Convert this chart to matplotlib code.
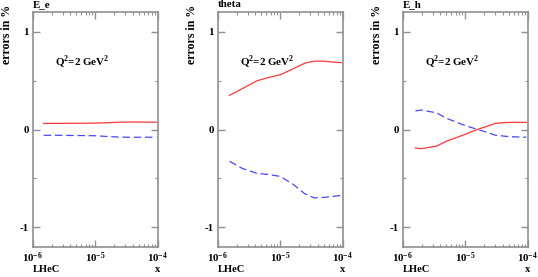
import matplotlib
matplotlib.use('Agg')
import matplotlib.pyplot as plt
from matplotlib.ticker import FixedLocator, NullFormatter

plt.rcParams['font.family'] = ['Liberation Serif', 'DejaVu Serif']
plt.rcParams['font.weight'] = 'bold'
plt.rcParams['mathtext.fontset'] = 'custom'
plt.rcParams['mathtext.rm'] = 'Liberation Serif:bold'
plt.rcParams['mathtext.bf'] = 'Liberation Serif:bold'

titles = ['E_e', 'theta', 'E_h']

x_ee = [1.5e-6, 3e-6, 6e-6, 1e-5, 1.6e-5, 2.5e-5, 4e-5, 6e-5, 9.5e-5]
red_ee = [0.062, 0.063, 0.064, 0.065, 0.070, 0.075, 0.077, 0.076, 0.075]
blue_ee = [-0.059, -0.060, -0.062, -0.064, -0.072, -0.078, -0.080, -0.079, -0.079]

x_th = [1.55e-6, 2.5e-6, 4.3e-6, 6.3e-6, 1e-5, 1.6e-5, 2.5e-5, 3.5e-5, 5e-5, 7e-5, 9.5e-5]
red_th = [0.35, 0.42, 0.50, 0.53, 0.56, 0.62, 0.68, 0.70, 0.70, 0.69, 0.685]
blue_th = [-0.326, -0.40, -0.45, -0.46, -0.48, -0.56, -0.66, -0.70, -0.695, -0.685, -0.675]

x_eh = [1.6e-6, 2e-6, 3.5e-6, 5e-6, 1e-5, 1.45e-5, 2.4e-5, 3e-5, 4.5e-5, 6e-5, 9.5e-5]
red_eh = [-0.19, -0.196, -0.17, -0.12, -0.05, -0.007, 0.04, 0.062, 0.072, 0.073, 0.073]
blue_eh = [0.19, 0.20, 0.17, 0.115, 0.04, 0.008, -0.035, -0.058, -0.070, -0.075, -0.079]

xs = [x_ee, x_th, x_eh]
reds = [red_ee, red_th, red_eh]
blues = [blue_ee, blue_th, blue_eh]

fig = plt.figure(figsize=(5.38, 2.77), dpi=100)
W, H = 538, 277
lefts = [32.7, 217.7, 402.7]
ax_w, top, bot = 125, 12.3, 246.7

spine_col = '#909090'
for i in range(3):
    ax = fig.add_axes([lefts[i] / W, (H - bot) / H, ax_w / W, (bot - top) / H])
    ax.plot(xs[i], reds[i], color='#ff3838', lw=0.9)
    ax.plot(xs[i], blues[i], color='#4848ff', lw=0.9, ls=(0, (6, 3)))
    ax.set_xscale('log')
    ax.set_xlim(1e-6, 1e-4)
    ax.set_ylim(-1.2, 1.2)
    ax.set_yticks([-1, 0, 1])
    ax.set_yticklabels(['-1', '0', '1'])
    ax.yaxis.set_minor_locator(FixedLocator([-0.5, 0.5]))
    ax.set_xticks([1e-6, 1e-5, 1e-4])
    ax.set_xticklabels([r'$\mathbf{10^{-6}}$', r'$\mathbf{10^{-5}}$', r'$\mathbf{10^{-4}}$'])
    ax.xaxis.set_minor_formatter(NullFormatter())
    ax.tick_params(which='both', direction='in', top=True, right=True,
                   color=spine_col, labelsize=7.8, pad=3)
    ax.tick_params(which='major', length=5, width=1)
    ax.tick_params(which='minor', length=2.5, width=0.8)
    for s in ax.spines.values():
        s.set_color(spine_col)
        s.set_linewidth(1.2)
    for lab in ax.get_yticklabels() + ax.get_xticklabels():
        lab.set_fontweight('bold')

    ax.text(0.0, 1.012, titles[i], transform=ax.transAxes, fontsize=7.8,
            fontweight='bold', ha='left', va='bottom')
    ax.text(0.18, 0.79, r'Q$^{2}$=2 GeV$^{2}$', transform=ax.transAxes,
            fontsize=7.9, fontweight='bold', ha='left', va='center')
    fig.text((lefts[i] - 25.5) / W, 1 - 5 / H, 'errors in %', rotation=90,
             fontsize=8.6, fontweight='bold', ha='center', va='top')
    fig.text(lefts[i] / W, 1 - 270 / H, 'LHeC', fontsize=7.6,
             fontweight='bold', ha='left', va='center')
    fig.text((lefts[i] + ax_w) / W, 1 - 270 / H, 'x', fontsize=7.6,
             fontweight='bold', ha='center', va='center')

fig.savefig('out.png', dpi=100)
